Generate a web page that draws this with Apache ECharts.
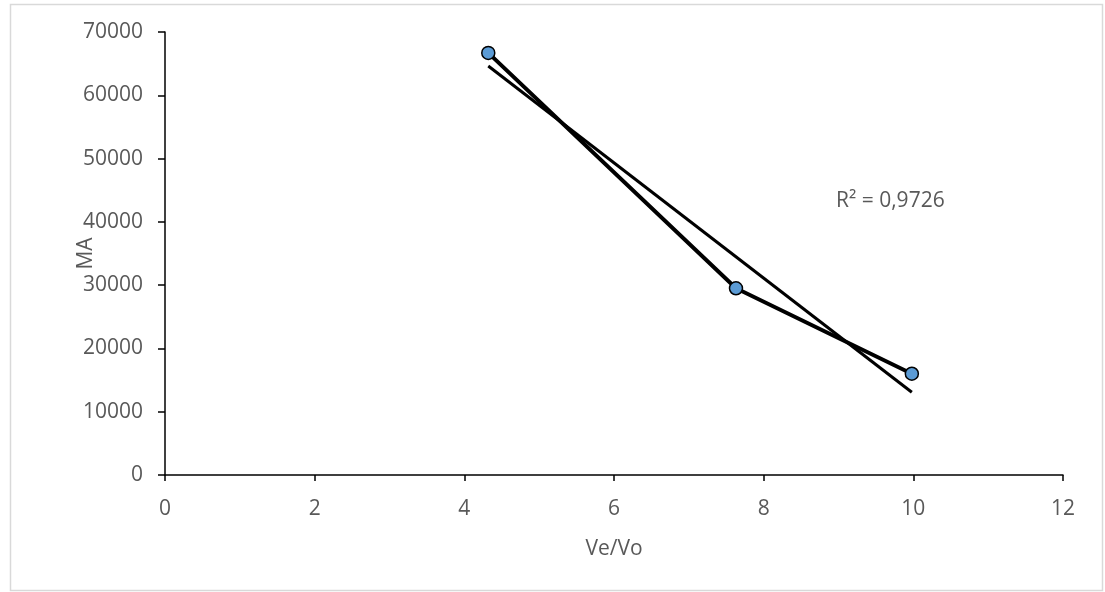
<!DOCTYPE html>
<html>
<head>
<meta charset="utf-8">
<script src="https://cdn.jsdelivr.net/npm/echarts@6/dist/echarts.min.js"></script>
<style>
html,body{margin:0;padding:0;background:#fff;}
#chart{width:1105px;height:592px;}
</style>
</head>
<body>
<div id="chart"></div>
<script>
const xValues = [4.32, 7.63, 9.98];
const yValues = [66700, 29500, 16000];
const xAxisName = 'Ve/Vo';
const yAxisName = 'MA';
const r2Label = 'R² = 0,9726';

// linear regression trendline computed from the data
const n = xValues.length;
const mx = xValues.reduce((a,b)=>a+b,0)/n;
const my = yValues.reduce((a,b)=>a+b,0)/n;
let sxy=0,sxx=0;
for(let i=0;i<n;i++){sxy+=(xValues[i]-mx)*(yValues[i]-my);sxx+=(xValues[i]-mx)**2;}
const slope = sxy/sxx, intercept = my - slope*mx;
const xmin = Math.min(...xValues), xmax = Math.max(...xValues);
const trend = [[xmin, intercept+slope*xmin],[xmax, intercept+slope*xmax]];

const chart = echarts.init(document.getElementById('chart'));
const txt = '#595959';
const font = '"Open Sans", "Liberation Sans", sans-serif';
chart.setOption({
  animation:false,
  backgroundColor:'#fff',
  grid:{left:165,right:42,top:32,bottom:117},
  xAxis:{
    type:'value',min:0,max:12,interval:2,
    name:xAxisName,nameLocation:'middle',nameGap:64,nameMoveOverlap:false,
    nameTextStyle:{color:txt,fontSize:21,fontFamily:font},
    axisLine:{show:true,onZero:false,lineStyle:{color:'#000',width:1.5}},
    axisTick:{show:true,inside:false,length:6,lineStyle:{color:'#000',width:1.5}},
    axisLabel:{color:txt,fontSize:21,fontFamily:font,margin:24},
    splitLine:{show:false}
  },
  yAxis:{
    type:'value',min:0,max:70000,interval:10000,
    name:yAxisName,nameLocation:'middle',nameGap:68,nameRotate:90,nameMoveOverlap:false,
    nameTextStyle:{color:txt,fontSize:21,fontFamily:font},
    axisLine:{show:true,onZero:false,lineStyle:{color:'#000',width:1.5}},
    axisTick:{show:true,inside:false,length:7,lineStyle:{color:'#000',width:1.5}},
    axisLabel:{color:txt,fontSize:21,fontFamily:font,margin:22,formatter:v=>String(v)},
    splitLine:{show:false}
  },
  graphic:[
    {type:'rect',left:8,top:2,shape:{width:1092,height:586},style:{fill:'none',stroke:'#d9d9d9',lineWidth:1.5},silent:true},
    {type:'text',left:836,top:191,style:{text:r2Label,fill:txt,fontSize:21,fontFamily:font}}
  ],
  series:[
    {
      type:'line',data:trend,symbol:'none',z:2,
      lineStyle:{color:'#000',width:3}
    },
    {
      type:'line',data:xValues.map((x,i)=>[x,yValues[i]]),z:3,
      symbol:'circle',symbolSize:13,
      lineStyle:{color:'#000',width:4},
      itemStyle:{color:'#5B9BD5',borderColor:'#000',borderWidth:1.5}
    }
  ]
});
</script>
</body>
</html>
